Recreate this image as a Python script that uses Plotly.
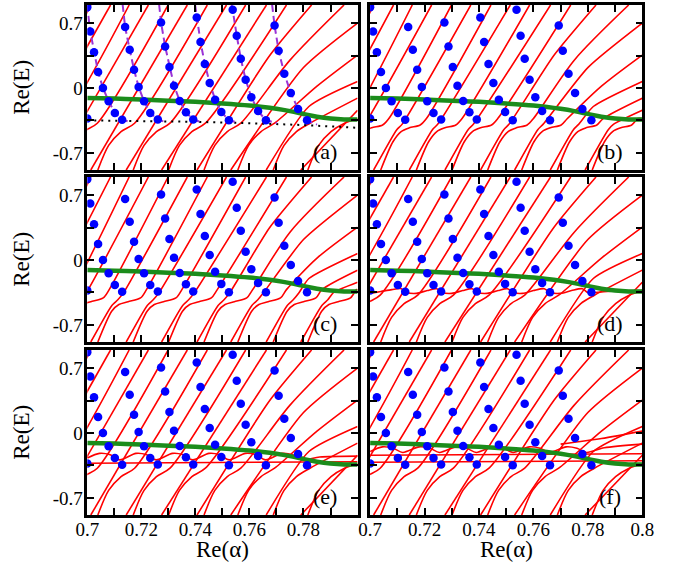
import plotly.graph_objects as go

# ---------------- axis ranges / ticks ----------------
ALPHA_RANGE = [0.7, 0.8]
E_RANGE = [-0.885, 0.895]
x_tick_vals = [0.70, 0.71, 0.72, 0.73, 0.74, 0.75, 0.76, 0.77, 0.78, 0.79, 0.80]
x_tick_text_left = ['0.7', '', '0.72', '', '0.74', '', '0.76', '', '0.78', '', '']
x_tick_text_right = ['0.7', '', '0.72', '', '0.74', '', '0.76', '', '0.78', '', '0.8']
y_tick_vals = [-0.7, -0.35, 0.0, 0.35, 0.7]
y_tick_text = ['-0.7', '', '0', '', '0.7']
panel_labels = ['(a)', '(b)', '(c)', '(d)', '(e)', '(f)']

# ---------------- blue points (same in all panels) ----------------
dots_alpha = [0.7000, 0.7011, 0.7025, 0.7040, 0.7058, 0.7079, 0.7102, 0.7129, 0.7000,
              0.7140, 0.7157, 0.7173, 0.7190, 0.7210, 0.7233, 0.7261,
              0.7273, 0.7288, 0.7304, 0.7321, 0.7342, 0.7365, 0.7392,
              0.7405, 0.7419, 0.7435, 0.7453, 0.7473, 0.7496, 0.7524,
              0.7538, 0.7553, 0.7568, 0.7586, 0.7607, 0.7632, 0.7661,
              0.7693, 0.7708, 0.7729, 0.7753, 0.7780, 0.7813]
dots_E = [0.872, 0.609, 0.384, 0.172, 0.000, -0.144, -0.269, -0.343, -0.330,
          0.657, 0.412, 0.197, 0.011, -0.144, -0.269, -0.341,
          0.707, 0.448, 0.226, 0.025, -0.140, -0.263, -0.341,
          0.760, 0.495, 0.258, 0.054, -0.126, -0.258, -0.349,
          0.843, 0.563, 0.316, 0.089, -0.101, -0.248, -0.349,
          0.674, 0.402, 0.154, -0.054, -0.226, -0.349]

# ---------------- purple dashed guides, panel (a) ----------------
dash_alpha = [
    [0.6998, 0.7000, 0.7011, 0.7025, 0.7040, 0.7058, 0.7079, 0.7102, 0.7129, 0.7156],
    [0.7131, 0.7140, 0.7157, 0.7173, 0.7190, 0.7210, 0.7233, 0.7261, 0.7292],
    [0.7266, 0.7273, 0.7288, 0.7304, 0.7321, 0.7342, 0.7365, 0.7392, 0.7425],
    [0.7399, 0.7405, 0.7419, 0.7435, 0.7453, 0.7473, 0.7496, 0.7524, 0.7560],
    [0.7534, 0.7538, 0.7553, 0.7568, 0.7586, 0.7607, 0.7632, 0.7661, 0.7702],
    [0.7684, 0.7693, 0.7708, 0.7729, 0.7753, 0.7780, 0.7813, 0.7850],
]
dash_E = [
    [0.895, 0.872, 0.609, 0.384, 0.172, 0.000, -0.144, -0.269, -0.343, -0.365],
    [0.895, 0.657, 0.412, 0.197, 0.011, -0.144, -0.269, -0.341, -0.370],
    [0.895, 0.707, 0.448, 0.226, 0.025, -0.140, -0.263, -0.341, -0.372],
    [0.895, 0.760, 0.495, 0.258, 0.054, -0.126, -0.258, -0.349, -0.375],
    [0.895, 0.843, 0.563, 0.316, 0.089, -0.101, -0.248, -0.349, -0.378],
    [0.895, 0.674, 0.402, 0.154, -0.054, -0.226, -0.349, -0.395],
]

# ---------------- black dotted level, panel (a) ----------------
dotted_alpha = [0.70, 0.72, 0.74, 0.76, 0.78, 0.80]
dotted_E = [-0.350, -0.355, -0.365, -0.380, -0.400, -0.430]

# ---------------- green curve (all panels) ----------------
green_alpha = [0.700, 0.710, 0.720, 0.730, 0.740, 0.750, 0.760, 0.765, 0.770,
               0.775, 0.780, 0.785, 0.790, 0.795, 0.800]
green_E = [-0.108, -0.115, -0.125, -0.137, -0.150, -0.168, -0.190, -0.205, -0.225,
           -0.250, -0.280, -0.310, -0.330, -0.340, -0.340]

# ---------------- red curves ----------------
# family A: bottom crossing and upper points
A_bottom = [0.6742, 0.6875, 0.7013, 0.7144, 0.7275, 0.7406, 0.7531, 0.7662, 0.7790]
A_upper_alpha = [[0.7086], [0.7226], [0.7370], [0.7515], [0.7663],
                 [0.7675, 0.7830], [0.7800, 0.8000], [0.7820, 0.8000], [0.8000]]
A_upper_E = [[0.895], [0.895], [0.895], [0.895], [0.895],
             [0.35, 0.895], [0.22, 0.70], [-0.20, 0.07], [-0.24]]
# family B
B_bottom = [0.6632, 0.6768, 0.6901, 0.7039, 0.7170, 0.7301, 0.7432, 0.7557, 0.7688, 0.7816]
B_upper_alpha = [[0.7013], [0.7155], [0.7299], [0.7444], [0.7586], [0.7737],
                 [0.7750, 0.7950], [0.7850, 0.8000], [0.8000], [0.8000]]
B_upper_E = [[0.895], [0.895], [0.895], [0.895], [0.895], [0.895],
             [0.30, 0.895], [0.02, 0.355], [-0.11], [-0.33]]

# lower-part shapes per panel (alpha offset from bottom crossing, E)
A_shape_dalpha = {
    'a': [0.0], 'b': [0.0, 0.0085, 0.0105], 'c': [0.0, 0.0078, 0.0100, 0.0122],
    'd': [0.0], 'e': [0.0], 'f': [0.0]}
A_shape_E = {
    'a': [-0.885], 'b': [-0.885, -0.45, -0.39], 'c': [-0.885, -0.49, -0.43, -0.35],
    'd': [-0.885], 'e': [-0.885], 'f': [-0.885]}
B_shape_dalpha = {
    'a': [0.0, 0.0040, 0.0086, 0.0136],
    'b': [0.0, 0.0045, 0.0075, 0.0105, 0.0145, 0.0168],
    'c': [0.0, 0.0052, 0.0078, 0.0112, 0.0158, 0.0180],
    'd': [0.0, 0.0040, 0.0086, 0.0136],
    'e': [0.0, 0.0040, 0.0086, 0.0136],
    'f': [0.0, 0.0040, 0.0086, 0.0136]}
B_shape_E = {
    'a': [-0.885, -0.62, -0.47, -0.38],
    'b': [-0.885, -0.58, -0.47, -0.43, -0.40, -0.33],
    'c': [-0.885, -0.55, -0.48, -0.45, -0.41, -0.32],
    'd': [-0.885, -0.62, -0.47, -0.38],
    'e': [-0.885, -0.62, -0.47, -0.38],
    'f': [-0.885, -0.62, -0.47, -0.38]}

# flat / wavy levels per panel
level_alpha = {
    'd': [[0.700, 0.704, 0.708, 0.7115, 0.7135, 0.717, 0.721, 0.7245, 0.7265, 0.730, 0.734,
           0.7375, 0.7395, 0.743, 0.747, 0.7505, 0.7525, 0.756, 0.760, 0.764, 0.766, 0.770,
           0.774, 0.778, 0.780, 0.785, 0.790, 0.800]],
    'e': [[0.700, 0.800],
          [0.700, 0.7045, 0.7085, 0.712, 0.718, 0.722, 0.7255, 0.7315, 0.7355, 0.739,
           0.745, 0.749, 0.7525, 0.7585, 0.7625, 0.766, 0.772, 0.776, 0.7795, 0.786, 0.800]],
    'f': [[0.700, 0.800],
          [0.700, 0.800],
          [0.700, 0.7045, 0.7085, 0.712, 0.718, 0.722, 0.7255, 0.7315, 0.7355, 0.739,
           0.745, 0.749, 0.7525, 0.7585, 0.7625, 0.766, 0.772, 0.776, 0.7795, 0.786, 0.800],
          [0.770, 0.785, 0.800]],
}
level_E = {
    'd': [[-0.36, -0.34, -0.32, -0.31, -0.35, -0.36, -0.33, -0.31, -0.35, -0.36, -0.33,
           -0.31, -0.35, -0.36, -0.33, -0.31, -0.35, -0.36, -0.33, -0.31, -0.35, -0.36,
           -0.33, -0.31, -0.35, -0.345, -0.335, -0.33]],
    'e': [[-0.327, -0.310],
          [-0.27, -0.22, -0.235, -0.29, -0.22, -0.235, -0.29, -0.22, -0.235, -0.29,
           -0.22, -0.235, -0.29, -0.22, -0.235, -0.29, -0.22, -0.235, -0.29, -0.26, -0.25]],
    'f': [[-0.316, -0.300],
          [-0.240, -0.225],
          [-0.20, -0.15, -0.165, -0.21, -0.15, -0.165, -0.21, -0.15, -0.165, -0.21,
           -0.15, -0.165, -0.21, -0.15, -0.165, -0.21, -0.15, -0.165, -0.21, -0.16, -0.12],
          [-0.12, -0.06, 0.02]],
}

RED = '#ff0000'
BLUE = '#0000ff'
GREEN = '#1b8c1b'
PURPLE = '#9a33d6'
FONT = 'Liberation Serif'

# ---------------- layout geometry ----------------
col_dom = [[0.11304, 0.51884], [0.53768, 0.94638]]
row_dom = [[0.69912, 0.99115], [0.39469, 0.68673], [0.08850, 0.38053]]
panel_keys = ['a', 'b', 'c', 'd', 'e', 'f']

fig = go.Figure()


def add(trace, i):
    trace.update(xaxis='x' if i == 0 else 'x%d' % (i + 1),
                 yaxis='y' if i == 0 else 'y%d' % (i + 1),
                 showlegend=False, hoverinfo='skip')
    fig.add_trace(trace)


for i, key in enumerate(panel_keys):
    for b, ua, ue in zip(A_bottom, A_upper_alpha, A_upper_E):
        xs = [b + d for d in A_shape_dalpha[key]] + ua
        ys = list(A_shape_E[key]) + ue
        add(go.Scatter(x=xs, y=ys, mode='lines',
                       line=dict(color=RED, width=1.6, shape='spline', smoothing=0.6)), i)
    for b, ua, ue in zip(B_bottom, B_upper_alpha, B_upper_E):
        xs = [b + d for d in B_shape_dalpha[key]] + ua
        ys = list(B_shape_E[key]) + ue
        add(go.Scatter(x=xs, y=ys, mode='lines',
                       line=dict(color=RED, width=1.6, shape='spline', smoothing=0.8)), i)
    for la, le in zip(level_alpha.get(key, []), level_E.get(key, [])):
        add(go.Scatter(x=la, y=le, mode='lines',
                       line=dict(color=RED, width=1.6, shape='spline', smoothing=0.8)), i)
    if key == 'a':
        add(go.Scatter(x=dotted_alpha, y=dotted_E, mode='lines',
                       line=dict(color='black', width=2, dash='2px,5px')), i)
        for da, de in zip(dash_alpha, dash_E):
            add(go.Scatter(x=da, y=de, mode='lines',
                           line=dict(color=PURPLE, width=2, dash='7px,4px')), i)
    add(go.Scatter(x=green_alpha, y=green_E, mode='lines',
                   line=dict(color=GREEN, width=4.5, shape='spline')), i)
    add(go.Scatter(x=dots_alpha, y=dots_E, mode='markers',
                   marker=dict(color=BLUE, size=8.5, line=dict(width=0))), i)

layout = dict(width=690, height=565, margin=dict(l=0, r=0, t=0, b=0),
              paper_bgcolor='white', plot_bgcolor='white', showlegend=False,
              font=dict(family=FONT, color='black', size=19))
annotations = []
for i, key in enumerate(panel_keys):
    r, c = i // 2, i % 2
    xname = 'xaxis' if i == 0 else 'xaxis%d' % (i + 1)
    yname = 'yaxis' if i == 0 else 'yaxis%d' % (i + 1)
    xid = 'x' if i == 0 else 'x%d' % (i + 1)
    yid = 'y' if i == 0 else 'y%d' % (i + 1)
    if r == 2:
        xtext = x_tick_text_left if c == 0 else x_tick_text_right
    else:
        xtext = [''] * len(x_tick_vals)
    layout[xname] = dict(domain=col_dom[c], anchor=yid, range=ALPHA_RANGE,
                         tickmode='array', tickvals=x_tick_vals, ticktext=xtext,
                         ticks='inside', ticklen=7, tickwidth=2, tickcolor='black',
                         showline=True, linewidth=2.5, linecolor='black', mirror='allticks',
                         showgrid=False, zeroline=False, ticklabelstandoff=-5,
                         tickfont=dict(family=FONT, size=19, color='black'))
    ytext = y_tick_text if c == 0 else [''] * len(y_tick_vals)
    layout[yname] = dict(domain=row_dom[r], anchor=xid, range=E_RANGE,
                         tickmode='array', tickvals=y_tick_vals, ticktext=ytext,
                         ticks='inside', ticklen=7, tickwidth=2, tickcolor='black',
                         showline=True, linewidth=2.5, linecolor='black', mirror='allticks',
                         showgrid=False, zeroline=False, ticklabelstandoff=-2,
                         tickfont=dict(family=FONT, size=19, color='black'))
    annotations.append(dict(x=0.788, y=-0.69, xref=xid, yref=yid, text=panel_labels[i],
                            showarrow=False, font=dict(family=FONT, size=22, color='black'),
                            xanchor='center', yanchor='middle'))

row_centers = [0.8451, 0.5407, 0.2345]
for yc in row_centers:
    annotations.append(dict(x=0.014, y=yc, xref='paper', yref='paper', text='Re(E)',
                            textangle=-90, showarrow=False,
                            font=dict(family=FONT, size=23, color='black'),
                            xanchor='center', yanchor='middle'))
for xc in [0.316, 0.742]:
    annotations.append(dict(x=xc, y=0.0266, xref='paper', yref='paper', text='Re(α)',
                            showarrow=False, font=dict(family=FONT, size=23, color='black'),
                            xanchor='center', yanchor='middle'))
layout['annotations'] = annotations
fig.update_layout(**layout)
fig.write_html('out.html', config={'displayModeBar': False},
               post_script="document.body.style.margin='0px';")
